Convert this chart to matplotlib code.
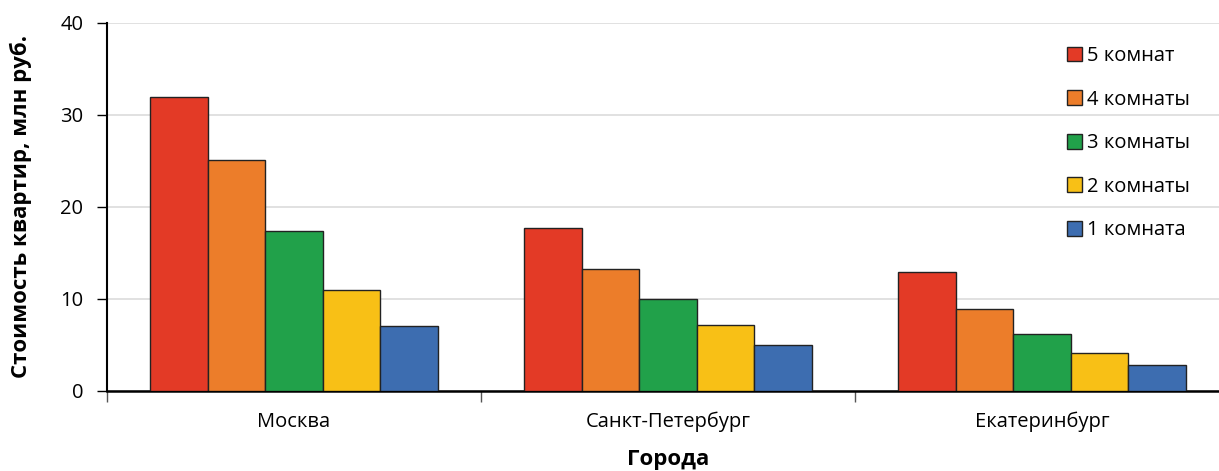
import matplotlib.pyplot as plt
import numpy as np

plt.rcParams['font.family'] = ['Open Sans', 'DejaVu Sans']

cities = ['Москва', 'Санкт-Петербург', 'Екатеринбург']
rooms = ['5 комнат', '4 комнаты', '3 комнаты', '2 комнаты', '1 комната']
rooms5 = [32.0, 17.7, 12.9]
rooms4 = [25.1, 13.3, 8.9]
rooms3 = [17.4, 10.0, 6.2]
rooms2 = [11.0, 7.2, 4.15]
rooms1 = [7.1, 5.0, 2.8]
colors = ['#E33A26', '#EC7D2A', '#21A14A', '#F8C016', '#3D6DB0']

series = [rooms5, rooms4, rooms3, rooms2, rooms1]

fig = plt.figure(figsize=(12.19, 4.71), dpi=100)
ax = fig.add_axes([107 / 1219, 80 / 471, 1122 / 1219, 368 / 471])

x = np.arange(len(cities))
w = 0.154
for i, (vals, lab, c) in enumerate(zip(series, rooms, colors)):
    ax.bar(x + (i - 2) * w, vals, width=w, color=c, edgecolor='#222222',
           linewidth=1.0, label=lab, zorder=3)

ax.set_xlim(-0.5, 2.5)
ax.set_ylim(0, 40)
ax.set_yticks([0, 10, 20, 30, 40])
ax.yaxis.grid(True, color='#dcdcdc', linewidth=1.2, zorder=0)
ax.set_axisbelow(True)

fs = 14.5
ax.set_xticks(x)
ax.set_xticklabels(cities, fontsize=fs)
ax.set_xticks([-0.5, 0.5, 1.5], minor=True)
ax.tick_params(axis='x', which='major', length=0, pad=15)
ax.tick_params(axis='x', which='minor', length=8, width=1, color='#555555')
ax.tick_params(axis='y', length=7, width=1, labelsize=fs, pad=10)

for s in ['top', 'right']:
    ax.spines[s].set_visible(False)
ax.spines['left'].set_linewidth(1.5)
ax.spines['bottom'].set_linewidth(1.8)

ax.set_ylabel('Стоимость квартир, млн руб.', fontsize=16, fontweight='bold', labelpad=20)
ax.set_xlabel('Города', fontsize=16, fontweight='bold', labelpad=12)

ax.legend(loc='upper left', bbox_to_anchor=(1049 / 1219, 1 - 28 / 471),
          bbox_transform=fig.transFigure, frameon=False, fontsize=fs,
          handlelength=0.75, handleheight=0.75, handletextpad=0.25,
          labelspacing=1.17)

fig.savefig('out.png', dpi=100)
